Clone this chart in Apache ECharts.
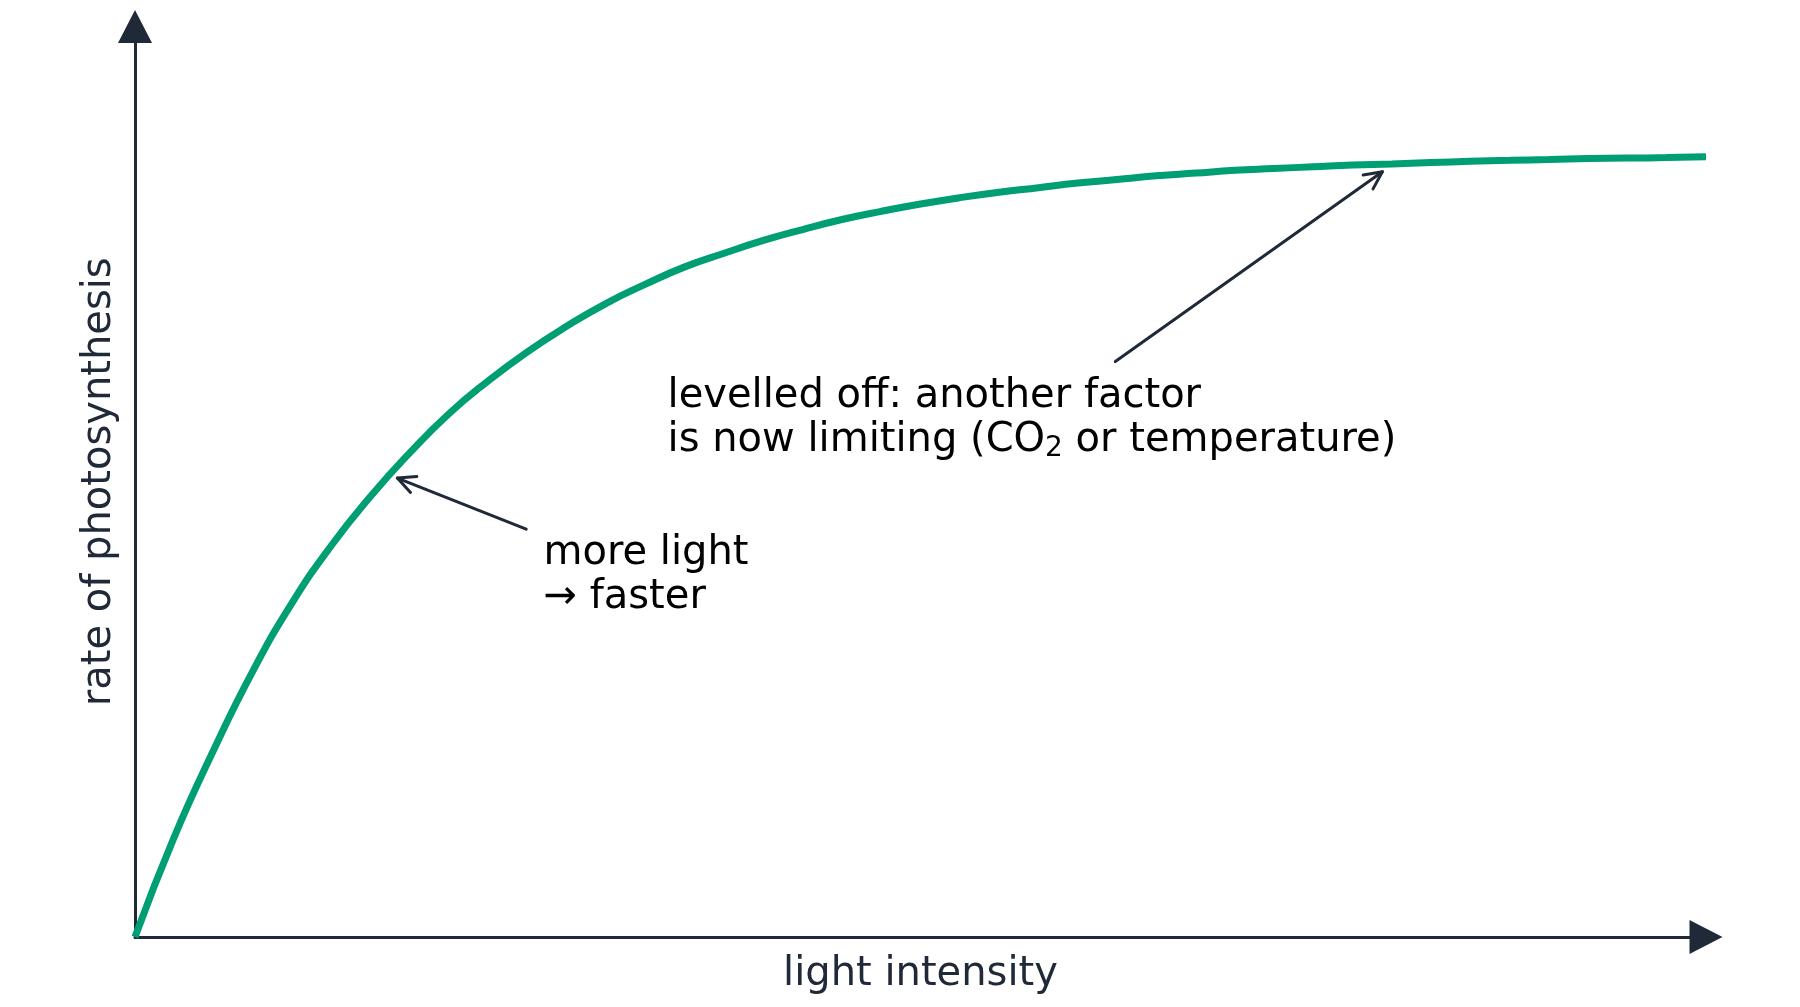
<!DOCTYPE html>
<html>
<head>
<meta charset="utf-8">
<title>rate of photosynthesis vs light intensity</title>
<script src="https://cdn.jsdelivr.net/npm/echarts@6/dist/echarts.min.js"></script>
<style>
  html, body { margin: 0; padding: 0; background: #fff; }
  #chart { width: 1800px; height: 1007px; }
</style>
</head>
<body>
<div id="chart"></div>
<script>
  // curve (arbitrary units, no ticks shown)
  const lightIntensity = [
    0, 0.25, 0.5, 0.75, 1, 1.25, 1.5, 1.75, 2, 2.25, 2.5, 2.75, 3, 3.25, 3.5, 3.75, 4, 4.25, 4.5, 4.75,
    5, 5.25, 5.5, 5.75, 6, 6.25, 6.5, 6.75, 7, 7.25, 7.5, 7.75, 8, 8.25, 8.5, 8.75, 9, 9.25, 9.5, 9.75, 10
  ];
  const rate = [
    0, 11.0, 20.5, 29.2, 36.7, 43.0, 48.4, 53.2, 57.5, 61.1, 64.3, 67.1, 69.6, 71.7, 73.6, 75.1, 76.5, 77.7, 78.8, 79.7,
    80.5, 81.2, 81.8, 82.3, 82.8, 83.2, 83.6, 83.9, 84.2, 84.4, 84.6, 84.8, 84.9, 85.05, 85.2, 85.3, 85.4, 85.5, 85.55, 85.6, 85.7
  ];

  const xName = 'light intensity';
  const yName = 'rate of photosynthesis';

  // annotations: text, arrow tail, arrow head, text top-left corner (data coords)
  const noteTexts = ['more light\n→ faster', 'levelled off: another factor\nis now limiting (CO{sub|2} or temperature)'];
  const noteTails = [[2.49, 44.8], [6.24, 63.2]];
  const noteHeads = [[1.67, 50.4], [7.94, 84.05]];
  const noteTextAt = [[2.60, 44.5], [3.39, 61.8]];

  const ink = '#1f2937';
  const green = '#009e73';
  const font = 'DejaVu Sans';

  const chart = echarts.init(document.getElementById('chart'));

  const axisCommon = {
    type: 'value',
    nameLocation: 'middle',
    nameTextStyle: { color: ink, fontSize: 40, fontFamily: font, lineHeight: 40 },
    axisLine: {
      show: true,
      symbol: ['none', 'triangle'],
      symbolSize: [34, 33],
      lineStyle: { color: ink, width: 3 }
    },
    axisTick: { show: false },
    axisLabel: { show: false },
    splitLine: { show: false }
  };

  chart.setOption({
    animation: false,
    backgroundColor: '#ffffff',
    grid: { left: 135, right: 94, top: 26.5, bottom: 70 },
    xAxis: Object.assign({}, axisCommon, { name: xName, nameGap: 18, min: 0, max: 10 }),
    yAxis: Object.assign({}, axisCommon, { name: yName, nameGap: 15, min: 0, max: 100 }),
    series: [{
      type: 'line',
      data: lightIntensity.map((x, i) => [x, rate[i]]),
      smooth: 0.5,
      showSymbol: false,
      lineStyle: { color: green, width: 7 }
    }]
  });

  // arrows and notes, placed through the grid's own scales
  const graphics = [];
  const legLen = 19.5;
  const legAng = 26 * Math.PI / 180;
  noteTexts.forEach((txt, i) => {
    const tail = chart.convertToPixel({ gridIndex: 0 }, noteTails[i]);
    const head = chart.convertToPixel({ gridIndex: 0 }, noteHeads[i]);
    const at = chart.convertToPixel({ gridIndex: 0 }, noteTextAt[i]);
    const back = Math.atan2(tail[1] - head[1], tail[0] - head[0]);
    const leg = a => [head[0] + legLen * Math.cos(back + a), head[1] + legLen * Math.sin(back + a)];
    graphics.push({
      type: 'line',
      shape: { x1: tail[0], y1: tail[1], x2: head[0], y2: head[1] },
      style: { stroke: ink, lineWidth: 3, lineCap: 'round' },
      z: 10
    });
    graphics.push({
      type: 'polyline',
      shape: { points: [leg(legAng), head, leg(-legAng)] },
      style: { stroke: ink, lineWidth: 3, lineCap: 'round', lineJoin: 'round', fill: null },
      z: 10
    });
    graphics.push({
      type: 'text',
      x: at[0],
      y: at[1],
      style: {
        text: txt,
        fill: '#000000',
        fontSize: 40,
        fontFamily: font,
        lineHeight: 44,
        align: 'left',
        verticalAlign: 'top',
        rich: {
          sub: { fontSize: 28, fontFamily: font, fill: '#000000', lineHeight: 22, verticalAlign: 'bottom' }
        }
      },
      z: 10
    });
  });
  chart.setOption({ graphic: graphics });
</script>
</body>
</html>
